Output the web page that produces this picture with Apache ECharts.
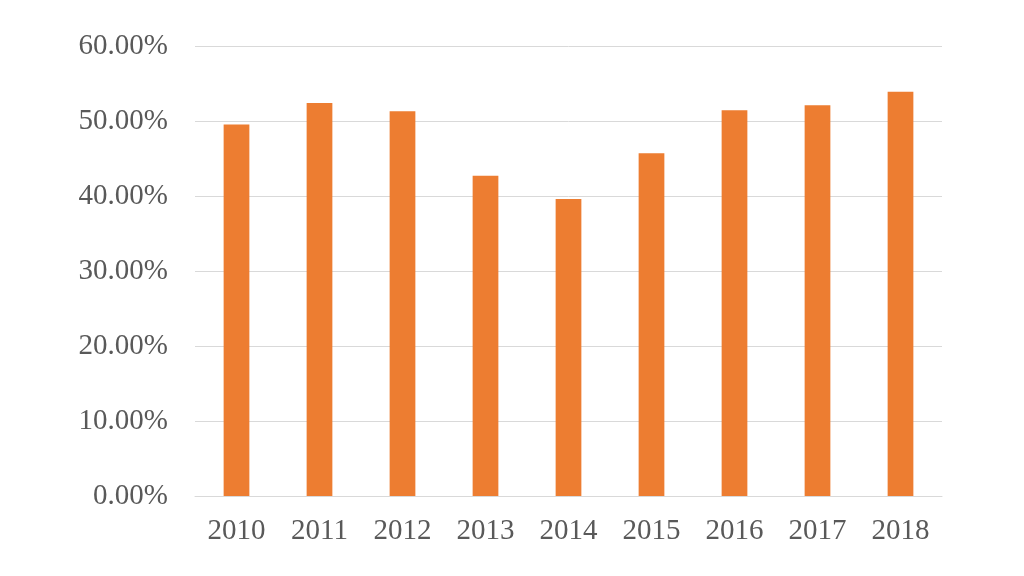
<!DOCTYPE html>
<html><head><meta charset="utf-8">
<script src="https://cdn.jsdelivr.net/npm/echarts@6/dist/echarts.min.js"></script>
<style>html,body{margin:0;padding:0;background:#fff}#c{width:1024px;height:576px}</style>
</head><body><div id="c"></div>
<script>
const categories = ['2010','2011','2012','2013','2014','2015','2016','2017','2018'];
const values = [49.55, 52.4, 51.3, 42.7, 39.6, 45.7, 51.45, 52.1, 53.9];
const chart = echarts.init(document.getElementById('c'), null, {renderer:'canvas'});
chart.setOption({
  animation:false,
  grid:{left:195,right:82,top:46,bottom:80},
  xAxis:{type:'category',data:categories,
    axisLine:{lineStyle:{color:'#d9d9d9'}},axisTick:{show:false},
    axisLabel:{color:'#595959',fontFamily:'Liberation Serif',fontSize:29,margin:21}},
  yAxis:{type:'value',min:0,max:60,interval:10,
    axisLine:{show:false},axisTick:{show:false},
    splitLine:{lineStyle:{color:'#d9d9d9'}},
    axisLabel:{color:'#595959',fontFamily:'Liberation Serif',fontSize:29,margin:27,
      formatter:v=>v.toFixed(2)+'%'}},
  series:[{type:'bar',data:values,barWidth:'31%',itemStyle:{color:'#ed7d31'}}]
});
</script></body></html>
